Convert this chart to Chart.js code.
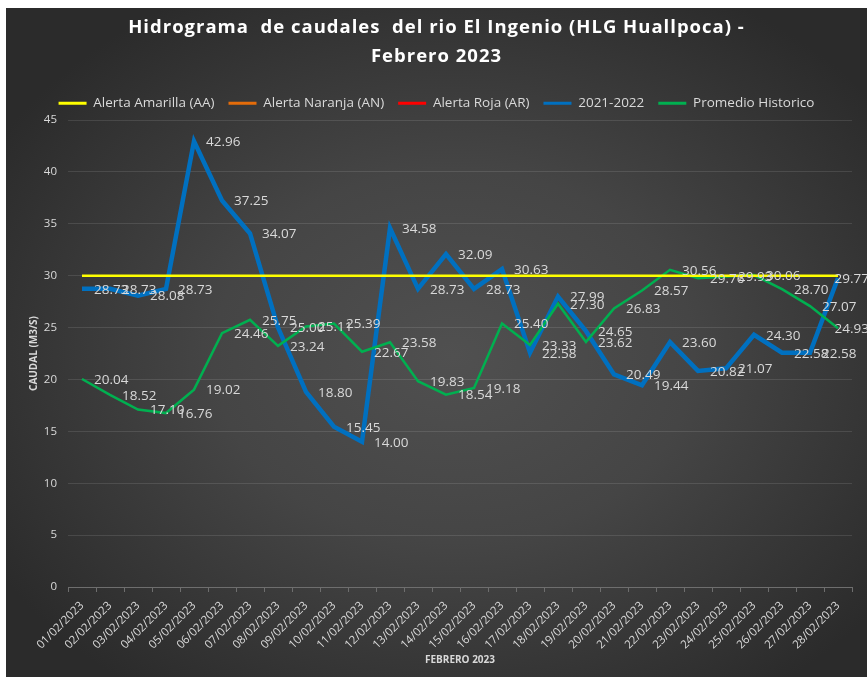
<!DOCTYPE html>
<html lang="es">
  <head>
    <meta charset="UTF-8" />
    <title>Hidrograma de caudales - Febrero 2023</title>
    <script src="https://cdn.jsdelivr.net/npm/chart.js"></script>
    <style>
      html,
      body {
        margin: 0;
        padding: 0;
        background-color: #ffffff;
      }

      .chart-box {
        position: absolute;
        left: 6px;
        top: 8px;
        width: 861px;
        height: 669px;
        background: radial-gradient(ellipse 62% 62% at 52% 52%, #505050 0%, #454545 45%, #2b2b2b 100%);
      }

      .titulo {
        position: absolute;
        left: 0;
        top: 4px;
        width: 861px;
        text-align: center;
        white-space: pre;
        color: #ffffff;
        font-family: "Open Sans", "DejaVu Sans", sans-serif;
        font-weight: bold;
        font-size: 18.5px;
        line-height: 28.5px;
        letter-spacing: 1px;
      }
    </style>
  </head>
  <body>
    <div class="chart-box">
      <div class="titulo">Hidrograma  de caudales  del rio El Ingenio (HLG Huallpoca) -
Febrero 2023</div>
      <canvas id="caudalChart" width="861" height="669"></canvas>
    </div>

    <script>
      const fechas = [
        "01/02/2023", "02/02/2023", "03/02/2023", "04/02/2023", "05/02/2023", "06/02/2023", "07/02/2023",
        "08/02/2023", "09/02/2023", "10/02/2023", "11/02/2023", "12/02/2023", "13/02/2023", "14/02/2023",
        "15/02/2023", "16/02/2023", "17/02/2023", "18/02/2023", "19/02/2023", "20/02/2023", "21/02/2023",
        "22/02/2023", "23/02/2023", "24/02/2023", "25/02/2023", "26/02/2023", "27/02/2023", "28/02/2023",
      ];

      const alertaAmarilla = [
        30, 30, 30, 30, 30, 30, 30, 30, 30, 30, 30, 30, 30, 30,
        30, 30, 30, 30, 30, 30, 30, 30, 30, 30, 30, 30, 30, 30,
      ];
      const alertaNaranja = [];
      const alertaRoja = [];

      const caudal2122 = [
        28.73, 28.73, 28.08, 28.73, 42.96, 37.25, 34.07, 25.0, 18.8, 15.45, 14.0, 34.58, 28.73, 32.09,
        28.73, 30.63, 22.58, 27.99, 24.65, 20.49, 19.44, 23.6, 20.82, 21.07, 24.3, 22.58, 22.58, 29.77,
      ];

      const promedioHistorico = [
        20.04, 18.52, 17.1, 16.76, 19.02, 24.46, 25.75, 23.24, 25.11, 25.39, 22.67, 23.58, 19.83, 18.54,
        19.18, 25.4, 23.33, 27.3, 23.62, 26.83, 28.57, 30.56, 29.76, 29.93, 30.06, 28.7, 27.07, 24.93,
      ];

      const ticksY = [0, 5, 10, 15, 20, 25, 30, 35, 40, 45];

      const colorTexto = "#d9d9d9";
      const fuente = "'Open Sans', 'DejaVu Sans', sans-serif";

      // etiquetas de datos a la derecha de cada punto
      const etiquetasDatos = {
        id: "etiquetasDatos",
        afterDatasetsDraw(chart) {
          const ctx = chart.ctx;
          ctx.save();
          ctx.font = "13.5px " + fuente;
          ctx.fillStyle = colorTexto;
          ctx.textBaseline = "middle";
          ctx.textAlign = "left";
          chart.data.datasets.forEach((ds, i) => {
            if (!ds.conEtiquetas) return;
            const meta = chart.getDatasetMeta(i);
            meta.data.forEach((pt, j) => {
              const txt = ds.data[j].toFixed(2);
              const w = ctx.measureText(txt).width;
              const x = Math.min(pt.x + 12, chart.width - w + 2);
              ctx.fillText(txt, x, pt.y + 1);
            });
          });
          ctx.restore();
        },
      };

      const ctx = document.getElementById("caudalChart").getContext("2d");

      new Chart(ctx, {
        type: "line",
        data: {
          labels: fechas,
          datasets: [
            {
              label: "Alerta Amarilla (AA)",
              data: alertaAmarilla,
              borderColor: "#ffff00",
              backgroundColor: "#ffff00",
              borderWidth: 2.5,
              order: 0,
            },
            {
              label: "Alerta Naranja (AN)",
              data: alertaNaranja,
              borderColor: "#e46c0a",
              backgroundColor: "#e46c0a",
              borderWidth: 2.5,
              order: 1,
            },
            {
              label: "Alerta Roja (AR)",
              data: alertaRoja,
              borderColor: "#ff0000",
              backgroundColor: "#ff0000",
              borderWidth: 2.5,
              order: 2,
            },
            {
              label: "2021-2022",
              data: caudal2122,
              borderColor: "#0070c0",
              backgroundColor: "#0070c0",
              borderWidth: 4.5,
              order: 4,
              conEtiquetas: true,
            },
            {
              label: "Promedio Historico",
              data: promedioHistorico,
              borderColor: "#00b050",
              backgroundColor: "#00b050",
              borderWidth: 2.5,
              order: 3,
              conEtiquetas: true,
            },
          ],
        },
        options: {
          responsive: false,
          animation: false,
          layout: {
            padding: { top: 74.5, right: 0, bottom: 0, left: 0 },
          },
          elements: {
            point: { radius: 0, hoverRadius: 0 },
            line: { tension: 0 },
          },
          plugins: {
            title: { display: false },
            legend: {
              position: "top",
              labels: {
                color: colorTexto,
                font: { family: fuente, size: 13.5 },
                usePointStyle: true,
                pointStyle: "line",
                pointStyleWidth: 28,
                padding: 14,
                sort: (a, b) => a.datasetIndex - b.datasetIndex,
                generateLabels: (chart) =>
                  Chart.defaults.plugins.legend.labels.generateLabels(chart).map((l) => ({ ...l, lineWidth: 3 })),
              },
            },
            tooltip: { enabled: false },
          },
          scales: {
            x: {
              offset: true,
              grid: {
                offset: true,
                drawOnChartArea: false,
                drawTicks: true,
                tickLength: 5,
                color: "#6e6e6e",
              },
              border: { display: true, color: "#6e6e6e" },
              ticks: {
                color: colorTexto,
                font: { family: fuente, size: 11.5 },
                minRotation: 45,
                maxRotation: 45,
                autoSkip: false,
                padding: 7,
              },
              title: {
                display: true,
                text: "FEBRERO 2023",
                color: colorTexto,
                font: { family: fuente, size: 10, weight: "bold" },
                padding: { top: 0, bottom: 11 },
              },
              afterFit: (scale) => {
                scale.height = 90;
              },
            },
            y: {
              min: 0,
              max: 45,
              afterBuildTicks: (scale) => {
                scale.ticks = ticksY.map((v) => ({ value: v }));
              },
              grid: {
                drawTicks: false,
                color: "rgba(255,255,255,0.11)",
              },
              border: { display: false },
              ticks: {
                color: colorTexto,
                font: { family: fuente, size: 11.5 },
                padding: 11,
              },
              title: {
                display: true,
                text: "CAUDAL (M3/S)",
                color: colorTexto,
                font: { family: fuente, size: 10, weight: "bold" },
                padding: { top: 22, bottom: 0 },
              },
              afterFit: (scale) => {
                scale.width = 62;
              },
            },
            // margen derecho vacío, para que la leyenda quede centrada en todo el ancho
            margenDerecho: {
              position: "right",
              min: 0,
              max: 45,
              grid: { display: false },
              border: { display: false },
              ticks: { display: false },
              afterFit: (scale) => {
                scale.width = 15;
              },
            },
          },
        },
        plugins: [etiquetasDatos],
      });
    </script>
  </body>
</html>
